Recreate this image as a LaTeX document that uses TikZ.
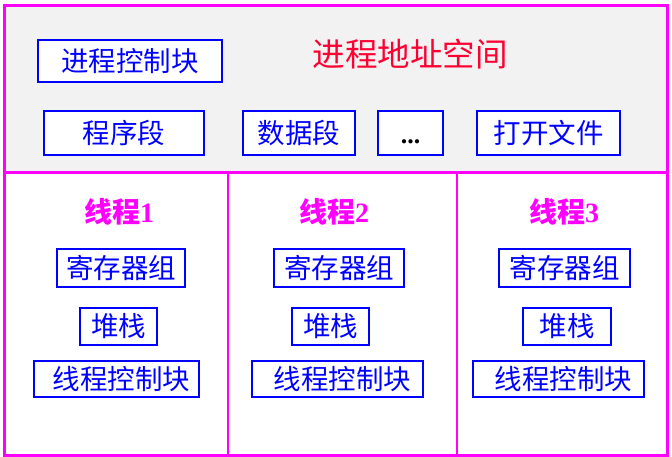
\documentclass[tikz,border=0pt]{standalone}
\usepackage{fontspec}
\setmainfont{Liberation Serif}
\newfontfamily\cjk{Noto Sans CJK SC}
\definecolor{mag}{HTML}{FF00FF}
\definecolor{ttl}{HTML}{FF0033}
\definecolor{bx}{HTML}{0000FF}
\definecolor{bg}{HTML}{F2F2F2}
\begin{document}
\begin{tikzpicture}[x=1pt,y=-1pt,
  blk/.style={draw=bx,line width=2.2pt,fill=white,text=bx,inner sep=0pt,
    font=\cjk\fontsize{27.5}{27.5}\selectfont},
  thr/.style={text=mag,inner sep=0pt,font=\fontsize{28}{28}\selectfont\bfseries},
  frame/.style={draw=mag,line width=3pt}]
\useasboundingbox (0,0) rectangle (672,456);
% frames
\path[fill=bg] (4,5.5) rectangle (667,172.5);
\path[fill=white] (4,172.5) rectangle (667,455);
\coordinate (d1t) at (228,172.5); \coordinate (d1b) at (228,455);
\coordinate (d2t) at (457,172.5); \coordinate (d2b) at (457,455);
\draw[draw=mag,line width=2pt] (d1t) -- (d1b) (d2t) -- (d2b);
\draw[frame] (4,172.5) -- (667,172.5);
\draw[frame] (4,5.5) rectangle (667,455);
% process level
\node[blk,minimum width=184pt,minimum height=42pt] (pcb) at (130,61) {进程控制块};
\node[text=ttl,inner sep=0pt,font=\cjk\fontsize{32.5}{32.5}\selectfont] (title) at (410,54.5) {进程地址空间};
\node[blk,minimum width=160pt,minimum height=44pt] (code) at (124,133) {程序段};
\node[blk,minimum width=112pt,minimum height=44pt] (data) at (299,133) {数据段};
\node[blk,minimum width=65pt,minimum height=44pt,text=black,text height=20pt,text depth=0pt,font=\fontsize{26}{26}\selectfont\bfseries] (dots) at (410.5,133) {...};
\node[blk,minimum width=143pt,minimum height=44pt] (files) at (548.5,133) {打开文件};
% threads
\node[thr] (t1) at (119,212) {{\cjk 线程}1};
\node[thr] (t2) at (334,212) {{\cjk 线程}2};
\node[thr] (t3) at (564,212) {{\cjk 线程}3};
\node[blk,minimum width=128pt,minimum height=38pt] (r1) at (121,268) {寄存器组};
\node[blk,minimum width=130pt,minimum height=38pt] (r2) at (339,268) {寄存器组};
\node[blk,minimum width=131pt,minimum height=38pt] (r3) at (564.5,268) {寄存器组};
\node[blk,minimum width=77pt,minimum height=37pt] (s1) at (118.5,326.5) {堆栈};
\node[blk,minimum width=77pt,minimum height=37pt] (s2) at (330.5,326.5) {堆栈};
\node[blk,minimum width=88pt,minimum height=37pt] (s3) at (567,326.5) {堆栈};
\node[blk,minimum width=165pt,minimum height=36pt] (c1) at (116.5,379) {\hspace*{10pt}线程控制块};
\node[blk,minimum width=171pt,minimum height=36pt] (c2) at (337.5,379) {\hspace*{10pt}线程控制块};
\node[blk,minimum width=171pt,minimum height=36pt] (c3) at (558.5,379) {\hspace*{10pt}线程控制块};
\end{tikzpicture}
\end{document}
